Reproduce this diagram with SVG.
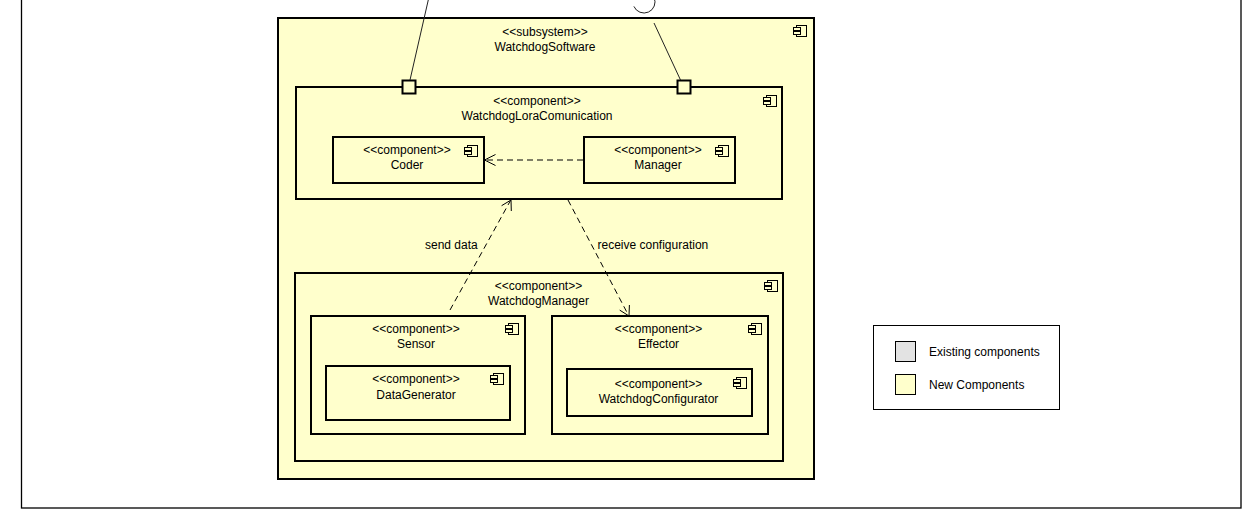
<svg xmlns="http://www.w3.org/2000/svg" xmlns:xlink="http://www.w3.org/1999/xlink" width="1256" height="515" viewBox="0 0 1256 515">
  <style>
    .box { fill: #ffffcc; stroke: #000; stroke-width: 2; }
    .icon rect { fill: #ffffcc; stroke: #000; stroke-width: 1; }
    .t { font-family: "Liberation Sans", Arial, sans-serif; font-size: 12px; fill: #000; }
    .c { text-anchor: middle; }
    .dep { fill: none; stroke: #000; stroke-width: 1; stroke-dasharray: 6 4; }
    .head { fill: none; stroke: #000; stroke-width: 1; }
    .wire { fill: none; stroke: #222; stroke-width: 1; }
  </style>
  <defs>
    <!-- UML component glyph -->
    <g id="cmp" class="icon">
      <rect x="3.5" y="0.5" width="10" height="11"/>
      <rect x="0.5" y="2.5" width="7" height="3"/>
      <rect x="0.5" y="6.5" width="7" height="3"/>
    </g>
  </defs>

  <rect width="1256" height="515" fill="#fff"/>
  <!-- diagram frame -->
  <rect x="21.5" y="-20" width="1219.5" height="528" fill="none" stroke="#000" stroke-width="1.3"/>

  <g id="watchdog-software">
    <rect class="box" x="278" y="18" width="536" height="461"/>
    <use href="#cmp" x="793" y="25"/>
    <text class="t c" x="545" y="36">&lt;&lt;subsystem&gt;&gt;</text>
    <text class="t c" x="545" y="51">WatchdogSoftware</text>
  </g>

  <g id="watchdog-lora-comunication">
    <rect class="box" x="296" y="87" width="486" height="112"/>
    <use href="#cmp" x="763" y="95"/>
    <text class="t c" x="537" y="105">&lt;&lt;component&gt;&gt;</text>
    <text class="t c" x="537" y="120">WatchdogLoraComunication</text>
  </g>

  <g id="port-left">
    <rect class="box" x="402.5" y="80.5" width="13" height="13"/>
  </g>
  <g id="port-right">
    <rect class="box" x="677.5" y="80.5" width="13" height="13"/>
  </g>

  <g id="coder">
    <rect class="box" x="333" y="137" width="151" height="46"/>
    <use href="#cmp" x="464" y="145"/>
    <text class="t c" x="407" y="154">&lt;&lt;component&gt;&gt;</text>
    <text class="t c" x="407" y="169">Coder</text>
  </g>

  <g id="manager">
    <rect class="box" x="584" y="137" width="151" height="46"/>
    <use href="#cmp" x="715" y="145"/>
    <text class="t c" x="658" y="154">&lt;&lt;component&gt;&gt;</text>
    <text class="t c" x="658" y="169">Manager</text>
  </g>

  <g id="watchdog-manager">
    <rect class="box" x="295" y="273" width="488" height="188"/>
    <use href="#cmp" x="764" y="280"/>
    <text class="t c" x="538.5" y="290">&lt;&lt;component&gt;&gt;</text>
    <text class="t c" x="538.5" y="305">WatchdogManager</text>
  </g>

  <g id="sensor">
    <rect class="box" x="311" y="316" width="214" height="118"/>
    <use href="#cmp" x="505" y="323"/>
    <text class="t c" x="416" y="333">&lt;&lt;component&gt;&gt;</text>
    <text class="t c" x="416" y="348">Sensor</text>
  </g>

  <g id="data-generator">
    <rect class="box" x="326" y="366" width="184" height="54"/>
    <use href="#cmp" x="490" y="373"/>
    <text class="t c" x="416" y="383">&lt;&lt;component&gt;&gt;</text>
    <text class="t c" x="416" y="398.5">DataGenerator</text>
  </g>

  <g id="effector">
    <rect class="box" x="552" y="316" width="216" height="118"/>
    <use href="#cmp" x="748" y="323"/>
    <text class="t c" x="658.5" y="333">&lt;&lt;component&gt;&gt;</text>
    <text class="t c" x="658.5" y="348">Effector</text>
  </g>

  <g id="watchdog-configurator">
    <rect class="box" x="567" y="369" width="185" height="47"/>
    <use href="#cmp" x="733" y="377"/>
    <text class="t c" x="658.5" y="388">&lt;&lt;component&gt;&gt;</text>
    <text class="t c" x="658.5" y="403">WatchdogConfigurator</text>
  </g>

  <g id="connectors">
    <!-- port wires leaving the subsystem -->
    <line class="wire" x1="428.5" y1="-1" x2="410" y2="80"/>
    <line class="wire" x1="654" y1="23" x2="680.5" y2="80"/>
    <path class="wire" d="M 633.9 6.4 A 11 11 0 0 0 654.1 -2.4"/>

    <!-- Manager uses Coder -->
    <line class="dep" x1="583" y1="160" x2="485" y2="160"/>
    <polyline class="head" points="495.5,154.5 484.5,160 495.5,165.5"/>

    <!-- send data: Sensor to WatchdogLoraComunication -->
    <line class="dep" x1="450" y1="310" x2="510.5" y2="200.5"/>
    <polyline class="head" points="501.6,205.7 511,200 511.3,211"/>
    <text class="t" x="425" y="249">send data</text>

    <!-- receive configuration: WatchdogLoraComunication to Effector -->
    <line class="dep" x1="568" y1="200" x2="628.6" y2="315.5"/>
    <polyline class="head" points="619.7,310.1 629,316 629.4,305"/>
    <text class="t" x="597.5" y="249">receive configuration</text>
  </g>

  <g id="legend">
    <rect x="873.5" y="325.5" width="186" height="84" fill="#fff" stroke="#000" stroke-width="1"/>
    <rect x="895.5" y="341.5" width="20" height="20" fill="#e3e3e3" stroke="#000" stroke-width="1"/>
    <text class="t" x="929" y="356">Existing components</text>
    <rect x="895.5" y="374.5" width="20" height="20" fill="#ffffcc" stroke="#000" stroke-width="1"/>
    <text class="t" x="929" y="389">New Components</text>
  </g>
</svg>
